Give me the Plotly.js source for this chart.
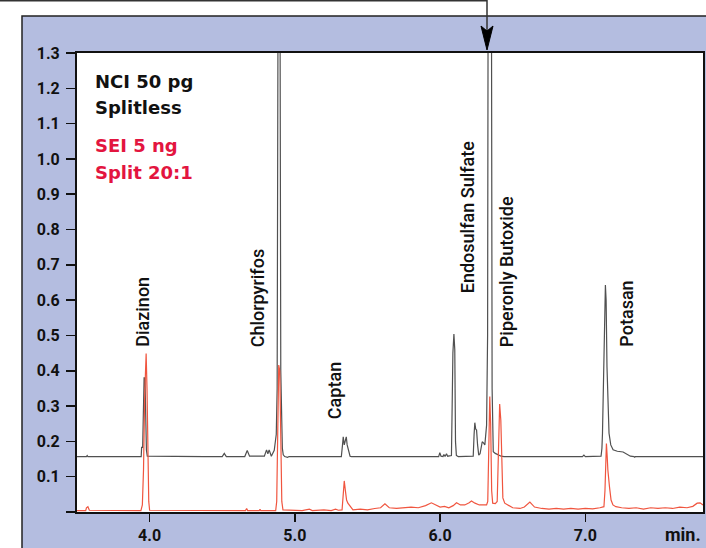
<!DOCTYPE html>
<html>
<head>
<meta charset="utf-8">
<script src="https://cdn.plot.ly/plotly-3.0.1.min.js"></script>
<style>html,body{margin:0;padding:0;background:#fff;}#chart{width:706px;height:548px;}</style>
</head>
<body>
<div id="chart"></div>
<script>
// ---- Data ----
// NCI 50 pg, splitless (black trace): retention time (min) and response
const nciTime = [3.50,3.565,3.57,3.575,3.942,3.945,3.952,3.956,3.962,3.968,3.972,3.978,3.984,
  4.365,4.37,4.375,4.50,4.514,4.528,4.655,4.672,4.688,4.79,4.805,4.814,4.823,4.838,4.858,4.872,
  4.878,4.885,4.897,4.903,4.906,4.910,4.914,4.92,4.93,4.95,4.96,
  5.32,5.328,5.333,5.34,5.347,5.354,5.36,5.37,5.38,5.39,
  5.99,5.998,6.006,6.02,6.026,6.034,6.044,6.052,6.078,6.083,6.088,6.095,6.101,6.106,6.112,6.125,
  6.228,6.234,6.239,6.245,6.251,6.258,6.266,6.275,6.29,6.30,6.308,6.32,6.327,6.331,6.353,6.358,
  6.366,6.38,6.40,6.42,6.44,6.98,6.99,7.00,
  7.108,7.114,7.118,7.127,7.134,7.138,7.143,7.149,7.163,7.175,7.191,7.22,7.26,7.29,7.31,7.335,7.34,7.345,7.81];
const nciResp = [0.157,0.157,0.160,0.157,0.157,0.183,0.183,0.30,0.38,0.38,0.25,0.175,0.158,
  0.157,0.155,0.157,0.157,0.166,0.157,0.157,0.174,0.158,0.158,0.176,0.165,0.176,0.158,0.175,0.22,
  0.35,1.6,1.6,0.40,0.256,0.256,0.18,0.162,0.157,0.155,0.157,
  0.157,0.19,0.213,0.19,0.20,0.213,0.19,0.17,0.158,0.157,
  0.157,0.168,0.158,0.157,0.163,0.157,0.165,0.158,0.160,0.30,0.45,0.504,0.46,0.20,0.16,0.157,
  0.158,0.22,0.253,0.235,0.232,0.19,0.161,0.165,0.199,0.195,0.19,0.246,0.50,1.6,1.6,0.35,
  0.171,0.166,0.162,0.158,0.157,0.157,0.161,0.157,
  0.158,0.18,0.223,0.411,0.60,0.643,0.60,0.411,0.223,0.19,0.176,0.172,0.170,0.162,0.158,0.157,0.155,0.157,0.157];

// SEI 5 ng, split 20:1 (red trace)
const seiTime = [3.50,3.56,3.565,3.575,3.585,3.94,3.950,3.958,3.966,3.976,3.982,3.988,3.994,4.00,
  4.66,4.668,4.675,4.755,4.76,4.765,4.868,4.875,4.882,4.889,4.896,4.903,4.91,4.918,
  5.05,5.10,5.12,5.20,5.25,5.28,5.30,5.325,5.332,5.34,5.348,5.356,5.365,5.375,5.385,5.40,
  5.45,5.50,5.55,5.59,5.62,5.65,5.70,5.75,5.80,5.85,5.90,5.94,5.97,6.00,6.03,6.06,6.09,6.113,
  6.14,6.17,6.20,6.216,6.24,6.27,6.30,6.32,6.328,6.335,6.342,6.348,6.355,6.362,6.38,6.393,
  6.402,6.41,6.418,6.425,6.432,6.445,6.47,6.50,6.55,6.58,6.618,6.65,6.70,6.75,6.80,6.85,6.90,
  6.95,7.00,7.05,7.10,7.128,7.135,7.141,7.145,7.15,7.155,7.166,7.177,7.19,7.21,7.25,7.30,7.35,
  7.40,7.45,7.50,7.55,7.60,7.65,7.70,7.74,7.77,7.79,7.81];
const seiResp = [0.004,0.004,0.012,0.015,0.005,0.004,0.02,0.12,0.33,0.449,0.35,0.17,0.03,0.005,
  0.004,0.010,0.004,0.004,0.008,0.004,0.004,0.03,0.20,0.416,0.40,0.20,0.03,0.006,
  0.004,0.008,0.004,0.006,0.004,0.008,0.005,0.006,0.05,0.088,0.06,0.034,0.025,0.02,0.012,0.006,
  0.008,0.006,0.010,0.012,0.023,0.012,0.010,0.012,0.014,0.012,0.018,0.026,0.020,0.014,0.016,0.012,0.018,0.026,
  0.020,0.020,0.026,0.031,0.025,0.020,0.020,0.020,0.030,0.20,0.327,0.25,0.06,0.025,0.024,0.030,
  0.15,0.306,0.26,0.10,0.04,0.025,0.018,0.012,0.010,0.014,0.028,0.014,0.010,0.008,0.010,0.008,0.010,
  0.008,0.010,0.009,0.012,0.015,0.06,0.16,0.194,0.16,0.119,0.072,0.034,0.020,0.015,0.012,0.010,0.012,
  0.008,0.012,0.010,0.012,0.010,0.014,0.012,0.016,0.025,0.026,0.020];

// Axis ticks
const xTickVals = [4, 5, 6, 7];
const xTickText = ['4.0', '5.0', '6.0', '7.0'];
const yTickVals = [0, 0.1, 0.2, 0.3, 0.4, 0.5, 0.6, 0.7, 0.8, 0.9, 1.0, 1.1, 1.2, 1.3];
const yTickText = ['', '0.1', '0.2', '0.3', '0.4', '0.5', '0.6', '0.7', '0.8', '0.9', '1.0', '1.1', '1.2', '1.3'];

// Peak labels
const compounds = ['Diazinon', 'Chlorpyrifos', 'Captan', 'Endosulfan Sulfate', 'Piperonly Butoxide', 'Potasan'];
const legendLines = ['NCI 50 pg', 'Splitless', 'SEI 5 ng', 'Split 20:1'];

// ---- Layout helpers (pixel -> paper) ----
const L = 77, R = 703, T = 53, B = 512;
const px = x => (x - L) / (R - L);
const py = y => (B - y) / (B - T);

const labelPlace = [
  {x: 3.954, y: 0.462}, {x: 4.739, y: 0.462}, {x: 5.272, y: 0.257},
  {x: 6.191, y: 0.615}, {x: 6.459, y: 0.462}, {x: 7.285, y: 0.462}
];
const legendPlace = [
  {y: 81, color: '#111111'}, {y: 107, color: '#111111'},
  {y: 146, color: '#e3153f'}, {y: 172, color: '#e3153f'}
];

const traces = [
  {x: nciTime, y: nciResp, type: 'scatter', mode: 'lines', name: 'NCI 50 pg',
   line: {color: '#505050', width: 1.2}, hoverinfo: 'x+y'},
  {x: seiTime, y: seiResp, type: 'scatter', mode: 'lines', name: 'SEI 5 ng',
   line: {color: '#f0553f', width: 1.2}, hoverinfo: 'x+y'}
];

const annotations = [];
compounds.forEach((c, i) => {
  annotations.push({
    text: c, x: labelPlace[i].x, y: labelPlace[i].y, xref: 'x', yref: 'y',
    textangle: -90, showarrow: false, xanchor: 'center', yanchor: 'bottom',
    font: {family: 'Roboto, Arial, sans-serif', size: 18, weight: 500, color: '#111'}
  });
});
legendLines.forEach((t, i) => {
  annotations.push({
    text: t, x: px(93), y: py(legendPlace[i].y), xref: 'paper', yref: 'paper',
    xanchor: 'left', yanchor: 'middle', showarrow: false,
    font: {family: 'DejaVu Sans, Arial, sans-serif', size: 18, weight: 700, color: legendPlace[i].color}
  });
});
annotations.push({
  text: 'min.', x: 1, y: py(534), xref: 'paper', yref: 'paper', xanchor: 'right', yanchor: 'middle',
  showarrow: false, font: {family: 'Roboto, Arial, sans-serif', size: 18, weight: 700, color: '#111'}
});

const shapes = [
  {type: 'rect', xref: 'paper', yref: 'paper', x0: px(-2), x1: px(710), y0: py(16), y1: py(-2),
   fillcolor: '#ffffff', line: {width: 0}, layer: 'below'},
  {type: 'rect', xref: 'paper', yref: 'paper', x0: px(-2), x1: px(22), y0: py(550), y1: py(16),
   fillcolor: '#ffffff', line: {width: 0}, layer: 'below'},
  {type: 'path', xref: 'paper', yref: 'paper',
   path: `M ${px(22)},${py(548)} L ${px(22)},${py(16)} L ${px(706)},${py(16)}`,
   line: {color: '#222222', width: 1.5}},
  {type: 'path', xref: 'paper', yref: 'paper',
   path: `M ${px(0)},${py(0.8)} L ${px(487)},${py(0.8)} L ${px(487)},${py(32)}`,
   line: {color: '#333333', width: 1.5}},
  {type: 'path', xref: 'paper', yref: 'paper',
   path: `M ${px(487)},${py(50)} L ${px(481)},${py(26)} L ${px(487)},${py(31)} L ${px(493)},${py(26)} Z`,
   fillcolor: '#000000', line: {color: '#000000', width: 1}}
];

const tickFont = {family: 'Roboto, Arial, sans-serif', size: 16, weight: 700, color: '#111'};

const layout = {
  width: 706, height: 548,
  margin: {l: L, r: 706 - R, t: T, b: 548 - B, pad: 0},
  paper_bgcolor: '#b4bde0',
  plot_bgcolor: '#ffffff',
  showlegend: false,
  xaxis: {
    range: [3.5, 7.81], tickmode: 'array', tickvals: xTickVals, ticktext: xTickText,
    ticks: 'outside', ticklen: 8, tickwidth: 1.5, tickcolor: '#111',
    showline: true, linecolor: '#111', linewidth: 2, mirror: true,
    showgrid: false, zeroline: false, tickfont: tickFont, fixedrange: true
  },
  yaxis: {
    range: [0, 1.3], tickmode: 'array', tickvals: yTickVals, ticktext: yTickText,
    ticks: 'outside', ticklen: 9, tickwidth: 1.5, tickcolor: '#111', ticklabelstandoff: 3,
    showline: true, linecolor: '#111', linewidth: 2, mirror: true,
    showgrid: false, zeroline: false, tickfont: tickFont, fixedrange: true
  },
  annotations: annotations,
  shapes: shapes
};

Plotly.newPlot('chart', traces, layout, {staticPlot: true, displayModeBar: false});
</script>
</body>
</html>
